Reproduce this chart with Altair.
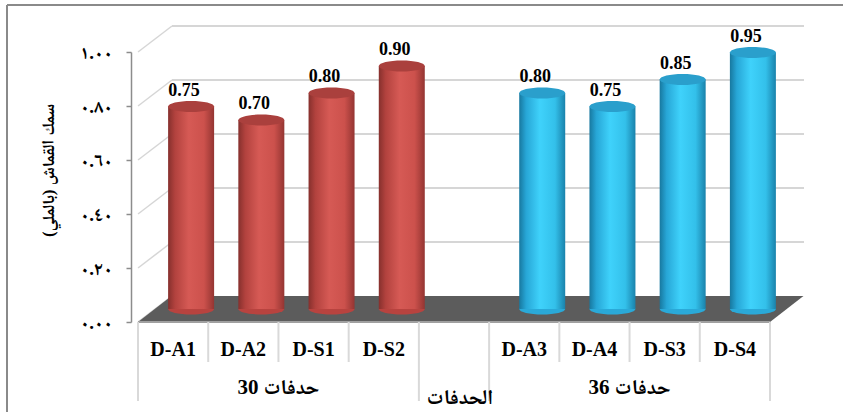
import altair as alt
import pandas as pd

# ---- data -------------------------------------------------------------
group_labels = ["30 حدفات", "36 حدفات"]
cats_30 = ["D-A1", "D-A2", "D-S1", "D-S2"]
cats_36 = ["D-A3", "D-A4", "D-S3", "D-S4"]
thick_30 = [0.75, 0.70, 0.80, 0.90]
thick_36 = [0.80, 0.75, 0.85, 0.95]
y_ticks = [0.0, 0.2, 0.4, 0.6, 0.8, 1.0]
y_tick_labels = ["٠.٠٠", "٠.٢٠", "٠.٤٠", "٠.٦٠", "٠.٨٠", "١.٠٠"]
y_title = "سمك القماش (بالملي)"
x_title = "الحدفات"

# ---- layout / style ---------------------------------------------------
W, H = 642, 270          # front plane of the 3-D box
DX, DY = 34, 26          # depth of the box (px)
CX, CY = 18, 13          # cylinder axis inside the depth (px)
CYL_W = 46               # cylinder diameter (px)
N_SLOTS = 9              # 4 + gap + 4

LATIN = "Liberation Serif"
ARABIC = "Liberation Serif, Noto Naskh Arabic, Noto Sans Arabic, DejaVu Sans"

# slot positions: first group 0..3, gap at 4, second group 5..8
rows = []
for g, (cats, vals) in enumerate([(cats_30, thick_30), (cats_36, thick_36)]):
    for i, (c, v) in enumerate(zip(cats, vals)):
        rows.append({"slot": g * 5 + i + 0.5, "cat": c, "value": v, "group": g, "zero": 0.0})
bars = pd.DataFrame(rows)

groups = pd.DataFrame({"slot": [2.0, 7.0], "label": group_labels})
edges = pd.DataFrame({"edge": list(range(N_SLOTS + 1))})
edges["long"] = edges["edge"].isin([0, 4, 5, 9])
ticks = pd.DataFrame({"v": y_ticks, "x0": 0.0})
walls = pd.DataFrame({"v": y_ticks[1:], "x0": 0.0, "x1": float(N_SLOTS)})
title_df = pd.DataFrame({"slot": [4.5], "label": [x_title]})

# floor parallelogram expressed in scale units
floor = pd.DataFrame({
    "fy": [0.0, DY / H],
    "fx0": [0.0, DX * N_SLOTS / W],
    "fx1": [float(N_SLOTS), N_SLOTS + DX * N_SLOTS / W],
})

xs = alt.Scale(domain=[0, N_SLOTS], nice=False, zero=False)
ys = alt.Scale(domain=[0, 1], nice=False, zero=False)
label_expr = "[" + ",".join("'%s'" % t for t in y_tick_labels) + "][round(datum.value*5)]"
y_axis = alt.Axis(
    values=y_ticks, labelExpr=label_expr, grid=False,
    domainColor="#8c8c8c", domainWidth=1.5, tickColor="#8c8c8c", tickWidth=1.5, tickSize=5,
    offset=2, labelPadding=14, labelFont=ARABIC, labelFontSize=19, labelFontWeight="bold",
    labelColor="black",
    title=y_title, titleFont=ARABIC, titleFontSize=17, titleFontWeight="bold", titleColor="black",
    titleAngle=-90, titleX=-83, titleY=118, titleAlign="center", titleBaseline="middle",
)


def X(field):
    return alt.X(field, type="quantitative", scale=xs, axis=None)


def Y(field):
    return alt.Y(field, type="quantitative", scale=ys, axis=y_axis)


def grad(stops):
    return alt.Gradient(
        gradient="linear", x1=0, x2=1, y1=0, y2=0,
        stops=[alt.GradientStop(offset=o, color=c) for o, c in stops],
    )


body_red = grad([(0, "#86302d"), (0.15, "#b2423e"), (0.45, "#d65a55"), (0.78, "#cc514c"), (1, "#943532")])
body_blue = grad([(0, "#17789f"), (0.15, "#27a6d6"), (0.45, "#3fd2fb"), (0.78, "#33c0ea"), (1, "#1a82ab")])
ELLIPSE = "M-1,0A1,0.24,0,1,1,1,0A1,0.24,0,1,1,-1,0Z"
cyl_colors = [
    {"body": body_red, "base": "#b8433f", "top": "#aa403d"},
    {"body": body_blue, "base": "#2aa9d8", "top": "#2a9fcc"},
]

# ---- frame ------------------------------------------------------------
frame_left = alt.Chart(ticks.head(1)).mark_rule(color="#8a8a8a", strokeWidth=2).encode(
    x=alt.value(-126), y=alt.value(-47), y2=alt.value(H + 95))
frame_top = alt.Chart(ticks.head(1)).mark_rule(color="#8a8a8a", strokeWidth=2).encode(
    x=alt.value(-126), x2=alt.value(W + 70), y=alt.value(-47))

# ---- 3-D box: side wall, back wall, floor -----------------------------
side = alt.Chart(ticks).mark_rule(
    color="#d6d6d6", strokeWidth=1.5, x2Offset=DX, y2Offset=-DY
).encode(x=X("x0"), x2="x0", y=Y("v"), y2="v")

back = alt.Chart(walls).mark_rule(
    color="#d6d6d6", strokeWidth=2, xOffset=DX, x2Offset=DX, yOffset=-DY, y2Offset=-DY
).encode(x=X("x0"), x2="x1", y=Y("v"))

floor_area = alt.Chart(floor).mark_area(orient="horizontal", color="#5c5c5c").encode(
    y=Y("fy"), x=X("fx0"), x2="fx1")

floor_edge = alt.Chart(walls.head(1)).mark_rule(color="#a0a0a0", strokeWidth=2).encode(
    x=X("x0"), x2="x1", y=alt.value(H))

# ---- category separators ---------------------------------------------
sep_long = alt.Chart(edges).transform_filter("datum.long").mark_rule(
    color="#d9d9d9", strokeWidth=2).encode(x=X("edge"), y=alt.value(H), y2=alt.value(H + 79))
sep_short = alt.Chart(edges).transform_filter("!datum.long").mark_rule(
    color="#d9d9d9", strokeWidth=2).encode(x=X("edge"), y=alt.value(H), y2=alt.value(H + 40))

# ---- cylinders --------------------------------------------------------
layers = []
for g, col in enumerate(cyl_colors):
    d = alt.Chart(bars).transform_filter(alt.datum.group == g)
    bottom_cap = d.mark_point(
        shape=ELLIPSE, size=CYL_W ** 2, filled=True, color=col["base"], opacity=1, strokeWidth=0,
        xOffset=CX, yOffset=-CY,
    ).encode(x=X("slot"), y=Y("zero"))
    cyl = d.mark_bar(
        color=col["body"], width=CYL_W, xOffset=CX, yOffset=-CY, y2Offset=-CY,
    ).encode(x=X("slot"), y=Y("value"), y2="zero")
    top_cap = d.mark_point(
        shape=ELLIPSE, size=CYL_W ** 2, filled=True, color=col["top"], opacity=1, strokeWidth=0,
        xOffset=CX, yOffset=-CY,
    ).encode(x=X("slot"), y=Y("value"))
    layers += [bottom_cap, cyl, top_cap]

values_text = alt.Chart(bars).mark_text(
    font=LATIN, fontSize=18, fontWeight="bold", color="black",
    baseline="alphabetic", xOffset=11, yOffset=-CY - 11,
).encode(x=X("slot"), y=Y("value"), text=alt.Text("value:Q", format=".2f"))

cat_text = alt.Chart(bars).mark_text(
    font=LATIN, fontSize=20, fontWeight="bold", color="black", baseline="middle",
).encode(x=X("slot"), y=alt.value(H + 28), text="cat:N")

group_text = alt.Chart(groups).mark_text(
    font=ARABIC, fontSize=21, fontWeight="bold", color="black", baseline="middle",
).encode(x=X("slot"), y=alt.value(H + 66), text="label:N")

title_text = alt.Chart(title_df).mark_text(
    font=ARABIC, fontSize=21, fontWeight="bold", color="black", baseline="middle", dx=6,
).encode(x=X("slot"), y=alt.value(H + 76), text="label:N")

chart = alt.layer(
    frame_left, frame_top, side, back, floor_area, floor_edge, sep_long, sep_short,
    *layers, values_text, cat_text, group_text, title_text,
).properties(
    width=W, height=H,
    autosize=alt.AutoSizeParams(type="none"),
    padding={"left": 133, "top": 52, "right": 68, "bottom": 90},
    background="white",
).configure_view(stroke=None)

chart.save("out.html", embed_options={"renderer": "svg", "actions": False})
